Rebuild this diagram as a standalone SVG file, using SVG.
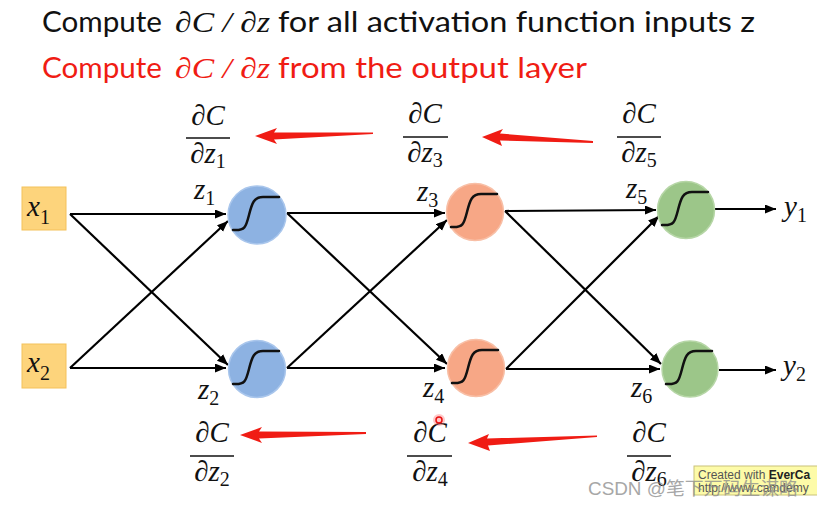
<svg xmlns="http://www.w3.org/2000/svg" width="817" height="506" viewBox="0 0 817 506">
<style>
.title{font-family:Lato,"Open Sans","Liberation Sans",sans-serif;font-size:29px}
.math{font-family:"Liberation Serif","DejaVu Serif",serif;font-style:italic;font-size:29px;fill:#111}
.sub{font-style:normal;font-size:20px}
.wire{stroke:#000;stroke-width:2.2;fill:none;marker-end:url(#ah)}
.fbar{stroke:#111;stroke-width:1.6}
.red{fill:#f01c14}
.sig{fill:none;stroke:#111;stroke-width:2.5;stroke-linecap:round}
.inbox{fill:#fdd47c;stroke:#f4c15a;stroke-width:1}
.blue{fill:#8db2e2;stroke:#a9c6ec;stroke-width:1.5}
.orange{fill:#f7a786;stroke:#f8bfa6;stroke-width:1.5}
.green{fill:#9cc689;stroke:#b6d6a6;stroke-width:1.5}
</style>
<defs>
<marker id="ah" markerUnits="userSpaceOnUse" markerWidth="12" markerHeight="10" refX="11" refY="4.5" orient="auto">
<path d="M0,0 L11,4.5 L0,9 z" fill="#000"/>
</marker>
<path id="sigmoid" d="M-24,15 C-12,16 -11,12 -8,0 C-5,-12 -3,-18 6,-18 L22,-18"/>
</defs>

<g id="title">
<text class="title" x="42" y="32" fill="#111" textLength="120" lengthAdjust="spacingAndGlyphs">Compute</text>
<text class="math" x="175" y="32" font-size="32" textLength="95" lengthAdjust="spacingAndGlyphs">∂C / ∂z</text>
<text class="title" x="278" y="32" fill="#111" textLength="477" lengthAdjust="spacingAndGlyphs">for all activation function inputs z</text>
<text class="title" x="42" y="78" fill="#f01c14" textLength="120" lengthAdjust="spacingAndGlyphs">Compute</text>
<text class="math" x="175" y="78" font-size="32" textLength="95" lengthAdjust="spacingAndGlyphs" style="fill:#f01c14">∂C / ∂z</text>
<text class="title" x="278" y="78" fill="#f01c14" textLength="309" lengthAdjust="spacingAndGlyphs">from the output layer</text>
</g>

<g id="connectors">
<path class="wire" d="M70,214 L226,214"/>
<path class="wire" d="M70,214 L228,365"/>
<path class="wire" d="M70,368 L228,221"/>
<path class="wire" d="M70,368 L226,368"/>
<path class="wire" d="M287,213 L445,213"/>
<path class="wire" d="M287,213 L447,364"/>
<path class="wire" d="M287,368 L445,368"/>
<path class="wire" d="M287,368 L447,220"/>
<path class="wire" d="M505,211 L656,210"/>
<path class="wire" d="M505,211 L661,364"/>
<path class="wire" d="M506,369 L660,369"/>
<path class="wire" d="M506,369 L659,216"/>
<path class="wire" d="M715,209 L776,209"/>
<path class="wire" d="M719,370 L776,370"/>
</g>

<g id="x1"><rect class="inbox" x="22" y="187" width="44" height="43"/><text class="math" x="27" y="216">x<tspan class="sub" dy="8">1</tspan></text></g>
<g id="x2"><rect class="inbox" x="22" y="344" width="44" height="44"/><text class="math" x="27" y="372">x<tspan class="sub" dy="8">2</tspan></text></g>

<g id="n1"><circle class="blue" cx="257" cy="215" r="29"/><use href="#sigmoid" class="sig" transform="translate(257,215)"/></g>
<g id="n2"><circle class="blue" cx="257" cy="369" r="28.5"/><use href="#sigmoid" class="sig" transform="translate(257,369)"/></g>
<g id="n3"><circle class="orange" cx="475" cy="212" r="28.5"/><use href="#sigmoid" class="sig" transform="translate(475,212)"/></g>
<g id="n4"><circle class="orange" cx="476" cy="368" r="28.5"/><use href="#sigmoid" class="sig" transform="translate(476,368)"/></g>
<g id="n5"><circle class="green" cx="686" cy="210" r="28.5"/><use href="#sigmoid" class="sig" transform="translate(686,210)"/></g>
<g id="n6"><circle class="green" cx="690" cy="369" r="28"/><use href="#sigmoid" class="sig" transform="translate(690,369)"/></g>

<g id="y1"><text class="math" x="784" y="216">y<tspan class="sub" dy="6">1</tspan></text></g>
<g id="y2"><text class="math" x="783" y="375">y<tspan class="sub" dy="6">2</tspan></text></g>

<g id="zlabels">
<text class="math" x="194" y="199">z<tspan class="sub" dy="6">1</tspan></text>
<text class="math" x="198" y="399">z<tspan class="sub" dy="6">2</tspan></text>
<text class="math" x="417" y="201">z<tspan class="sub" dy="6">3</tspan></text>
<text class="math" x="423" y="397">z<tspan class="sub" dy="6">4</tspan></text>
<text class="math" x="626" y="198">z<tspan class="sub" dy="6">5</tspan></text>
<text class="math" x="631" y="397">z<tspan class="sub" dy="6">6</tspan></text>
</g>

<g id="frac1"><text class="math" x="208" y="125" text-anchor="middle">∂C</text><line class="fbar" x1="186" y1="138" x2="230" y2="138"/><text class="math" x="208" y="163" text-anchor="middle">∂z<tspan class="sub" dy="5">1</tspan></text></g>
<g id="frac3"><text class="math" x="425" y="123" text-anchor="middle">∂C</text><line class="fbar" x1="403" y1="137" x2="448" y2="137"/><text class="math" x="425" y="162" text-anchor="middle">∂z<tspan class="sub" dy="5">3</tspan></text></g>
<g id="frac5"><text class="math" x="639" y="123" text-anchor="middle">∂C</text><line class="fbar" x1="617" y1="137" x2="661" y2="137"/><text class="math" x="639" y="162" text-anchor="middle">∂z<tspan class="sub" dy="5">5</tspan></text></g>
<g id="frac2"><text class="math" x="212" y="442" text-anchor="middle">∂C</text><line class="fbar" x1="190" y1="456" x2="234" y2="456"/><text class="math" x="212" y="481" text-anchor="middle">∂z<tspan class="sub" dy="5">2</tspan></text></g>
<g id="frac4"><text class="math" x="430" y="442" text-anchor="middle">∂C</text><line class="fbar" x1="407" y1="456" x2="452" y2="456"/><text class="math" x="430" y="481" text-anchor="middle">∂z<tspan class="sub" dy="5">4</tspan></text></g>
<g id="frac6"><text class="math" x="649" y="442" text-anchor="middle">∂C</text><line class="fbar" x1="627" y1="456" x2="671" y2="456"/><text class="math" x="649" y="481" text-anchor="middle">∂z<tspan class="sub" dy="5">6</tspan></text></g>

<g id="redarrows">
<polygon class="red" points="255,136 277,128 274,132.5 373,132.5 373,134 274,139.5 277,144"/>
<polygon class="red" points="482,137 503,129 500,133.5 593,141 593,143 500,140.5 502,146"/>
<polygon class="red" points="240,435 262,427 259,431.5 366,432 366,434 259,438.5 262,443"/>
<polygon class="red" points="468,443 489,434 487,438.5 597,435.5 597,437 488,445.5 490,451"/>
</g>

<g id="cursor"><circle cx="439" cy="420" r="6" fill="#ff6060" opacity="0.35"/><circle cx="439" cy="420" r="3" fill="none" stroke="#e81010" stroke-width="1.5"/></g>

<g id="watermark">
<rect x="694" y="466" width="130" height="29" fill="#fdfba8" stroke="#c9c27a" stroke-width="1"/>
<text x="698" y="479" font-family="'Liberation Sans',sans-serif" font-size="12" fill="#555">Created with <tspan font-weight="bold" fill="#222">EverCa</tspan></text>
<text x="698" y="492" font-family="'Liberation Sans',sans-serif" font-size="12" fill="#555">http://www.camdemy</text>
<text x="588" y="495" font-family="'Liberation Sans','Noto Sans CJK SC',sans-serif" font-size="18" fill="#8a8a8a" opacity="0.75" textLength="210" lengthAdjust="spacingAndGlyphs">CSDN @笔下万码生谋略</text>
</g>
</svg>
